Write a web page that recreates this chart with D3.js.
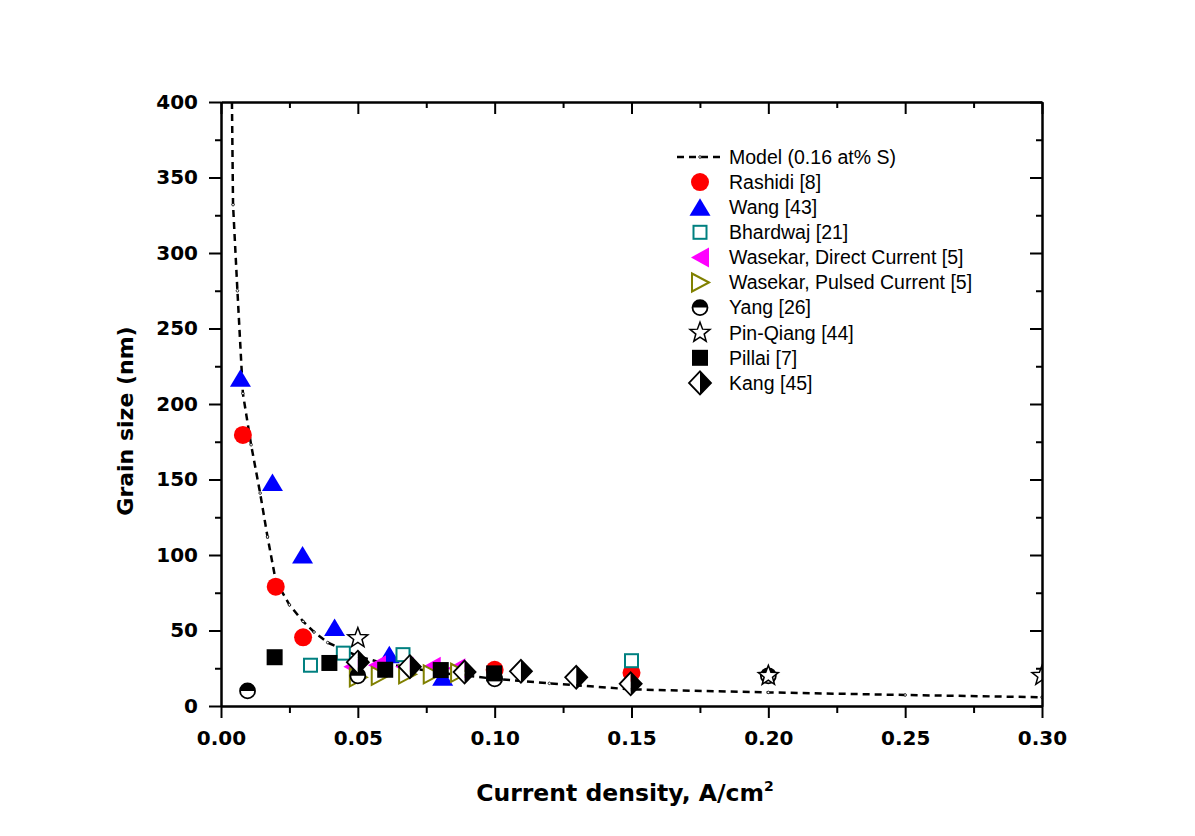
<!DOCTYPE html>
<html>
<head>
<meta charset="utf-8">
<script src="https://cdnjs.cloudflare.com/ajax/libs/d3/7.8.5/d3.min.js"></script>
<style>
  body { margin: 0; background: #fff; }
  .axis path, .axis line { stroke: #000; stroke-width: 2; }
  .axis text { font-family: "DejaVu Sans", sans-serif; font-weight: bold; font-size: 20px; fill: #000; }
  .legend text { font-family: "Liberation Sans", Arial, sans-serif; font-size: 19.5px; fill: #000; }
</style>
</head>
<body>
<div id="chart"></div>
<script>
// model curve, 0.16 at% S
var modelX = [0.0040, 0.0044, 0.0060, 0.0080, 0.0110, 0.0143, 0.0170, 0.0200, 0.0250, 0.0300, 0.0340, 0.0390, 0.0500, 0.0600, 0.0800, 0.1000, 0.1200, 0.1500, 0.2000, 0.2500, 0.3000];
var modelY = [400, 332, 275, 207, 173, 141, 112, 83, 67, 56, 49, 42, 33, 28, 22, 18, 15, 11, 9, 7.3, 5.8];

// literature data
var rashidiX = [0.008, 0.020, 0.030, 0.100, 0.150];
var rashidiY = [179.5, 79, 45.5, 24, 22];
var wangX = [0.0071, 0.0188, 0.0298, 0.0415, 0.0615, 0.081];
var wangY = [217, 148, 100, 52, 34, 19];
var bhardwajX = [0.0327, 0.0447, 0.0665, 0.150];
var bhardwajY = [27, 35, 34, 30];
var wasekarDcX = [0.048, 0.057, 0.067, 0.077, 0.086];
var wasekarDcY = [26, 27, 26, 26, 25];
var wasekarPcX = [0.050, 0.058, 0.068, 0.077, 0.087];
var wasekarPcY = [19, 20, 21, 21, 22];
var yangX = [0.0097, 0.050, 0.100, 0.200];
var yangY = [10, 20, 18, 20];
var pinQiangX = [0.050, 0.200, 0.300];
var pinQiangY = [45, 20, 20];
var pillaiX = [0.0196, 0.0396, 0.060, 0.0803, 0.0998];
var pillaiY = [32.3, 28.5, 24, 23.8, 21.6];
var kangX = [0.050, 0.069, 0.089, 0.1096, 0.1298, 0.1497];
var kangY = [29, 26, 22.5, 23, 19, 14.7];

var xTicks = [0, 0.05, 0.10, 0.15, 0.20, 0.25, 0.30];
var yTicks = [0, 50, 100, 150, 200, 250, 300, 350, 400];

var series = [
  { name: 'Rashidi [8]', shape: 'circle', xs: rashidiX, ys: rashidiY },
  { name: 'Wang [43]', shape: 'triUp', xs: wangX, ys: wangY },
  { name: 'Bhardwaj [21]', shape: 'openSquare', xs: bhardwajX, ys: bhardwajY },
  { name: 'Wasekar, Direct Current [5]', shape: 'triLeft', xs: wasekarDcX, ys: wasekarDcY },
  { name: 'Wasekar, Pulsed Current [5]', shape: 'triRight', xs: wasekarPcX, ys: wasekarPcY },
  { name: 'Yang [26]', shape: 'halfCircle', xs: yangX, ys: yangY },
  { name: 'Pin-Qiang [44]', shape: 'star', xs: pinQiangX, ys: pinQiangY },
  { name: 'Pillai [7]', shape: 'square', xs: pillaiX, ys: pillaiY },
  { name: 'Kang [45]', shape: 'halfDiamond', xs: kangX, ys: kangY }
];

var width = 1195, height = 836;
var pLeft = 221, pRight = 1042, pTop = 102, pBottom = 706;

var svg = d3.select('#chart').append('svg')
  .attr('width', width)
  .attr('height', height);

var x = d3.scaleLinear().domain([0, 0.3]).range([pLeft, pRight]);
var y = d3.scaleLinear().domain([0, 400]).range([pBottom, pTop]);

svg.append('clipPath').attr('id', 'plotClip')
  .append('rect')
  .attr('x', pLeft).attr('y', pTop)
  .attr('width', pRight - pLeft).attr('height', pBottom - pTop);

// marker drawing
function starPath(R, r) {
  var p = [];
  for (var i = 0; i < 10; i++) {
    var a = -Math.PI / 2 + i * Math.PI / 5;
    var rr = i % 2 ? r : R;
    p.push([rr * Math.cos(a), rr * Math.sin(a)]);
  }
  return 'M' + p.join('L') + 'Z';
}

function drawMarker(g, shape) {
  if (shape === 'circle') {
    g.append('circle').attr('r', 9).attr('fill', '#ff0000');
  } else if (shape === 'triUp') {
    g.append('path').attr('d', 'M0,-9L10.5,8.5L-10.5,8.5Z').attr('fill', '#0000ff');
  } else if (shape === 'openSquare') {
    g.append('rect').attr('x', -6.5).attr('y', -6.5).attr('width', 13).attr('height', 13)
      .attr('fill', '#fff').attr('stroke', '#008080').attr('stroke-width', 2);
  } else if (shape === 'triLeft') {
    g.append('path').attr('d', 'M-9,0L9,-10L9,10Z').attr('fill', '#ff00ff');
  } else if (shape === 'triRight') {
    g.append('path').attr('d', 'M9,0L-8,-9L-8,9Z')
      .attr('fill', '#fff').attr('stroke', '#808000').attr('stroke-width', 2);
  } else if (shape === 'halfCircle') {
    g.append('circle').attr('r', 7.5).attr('fill', '#fff');
    g.append('path').attr('d', 'M-7.5,0A7.5,7.5 0 0 1 7.5,0Z').attr('fill', '#000');
    g.append('circle').attr('r', 7.5).attr('fill', 'none').attr('stroke', '#000').attr('stroke-width', 1.8);
  } else if (shape === 'star') {
    g.append('path').attr('d', starPath(10.5, 4.4))
      .attr('fill', '#fff').attr('stroke', '#000').attr('stroke-width', 1.5);
  } else if (shape === 'square') {
    g.append('rect').attr('x', -8).attr('y', -8).attr('width', 16).attr('height', 16).attr('fill', '#000');
  } else if (shape === 'halfDiamond') {
    g.append('path').attr('d', 'M0,-11.5L-11,0L0,11.5Z').attr('fill', '#fff');
    g.append('path').attr('d', 'M0,-11.5L11,0L0,11.5Z').attr('fill', '#000');
    g.append('path').attr('d', 'M0,-11.5L11,0L0,11.5L-11,0Z')
      .attr('fill', 'none').attr('stroke', '#000').attr('stroke-width', 1.8);
  }
}

var plot = svg.append('g').attr('clip-path', 'url(#plotClip)');

// model line
var model = modelX.map(function(d, i) { return [d, modelY[i]]; });
var line = d3.line()
  .x(function(d) { return x(d[0]); })
  .y(function(d) { return y(d[1]); });

plot.append('path')
  .datum(model)
  .attr('d', line)
  .attr('fill', 'none')
  .attr('stroke', '#000')
  .attr('stroke-width', 2.5)
  .attr('stroke-dasharray', '7,5');

plot.selectAll('.mpt')
  .data(model)
  .enter()
  .append('circle')
  .attr('class', 'mpt')
  .attr('cx', function(d) { return x(d[0]); })
  .attr('cy', function(d) { return y(d[1]); })
  .attr('r', 1.3)
  .attr('fill', '#fff')
  .attr('stroke', '#000')
  .attr('stroke-width', 0.8);

// data markers
series.forEach(function(s) {
  var pts = s.xs.map(function(d, i) { return [d, s.ys[i]]; });
  plot.selectAll(null)
    .data(pts)
    .enter()
    .append('g')
    .attr('transform', function(d) { return 'translate(' + x(d[0]) + ',' + y(d[1]) + ')'; })
    .each(function() { drawMarker(d3.select(this), s.shape); });
});

// axes
var xMinor = d3.range(0.025, 0.3, 0.05);
var yMinor = d3.range(25, 400, 50);

svg.append('g').attr('class', 'axis')
  .attr('transform', 'translate(0,' + pBottom + ')')
  .call(d3.axisBottom(x).tickValues(xTicks).tickFormat(d3.format('.2f')).tickSize(12).tickSizeOuter(0).tickPadding(13));
svg.append('g').attr('class', 'axis')
  .attr('transform', 'translate(0,' + pBottom + ')')
  .call(d3.axisBottom(x).tickValues(xMinor).tickFormat('').tickSize(7).tickSizeOuter(0));

svg.append('g').attr('class', 'axis')
  .attr('transform', 'translate(0,' + pTop + ')')
  .call(d3.axisTop(x).tickValues(xTicks).tickFormat('').tickSize(-12).tickSizeOuter(0));
svg.append('g').attr('class', 'axis')
  .attr('transform', 'translate(0,' + pTop + ')')
  .call(d3.axisTop(x).tickValues(xMinor).tickFormat('').tickSize(-6).tickSizeOuter(0));

svg.append('g').attr('class', 'axis')
  .attr('transform', 'translate(' + pLeft + ',0)')
  .call(d3.axisLeft(y).tickValues(yTicks).tickSize(12).tickSizeOuter(0).tickPadding(11));
svg.append('g').attr('class', 'axis')
  .attr('transform', 'translate(' + pLeft + ',0)')
  .call(d3.axisLeft(y).tickValues(yMinor).tickFormat('').tickSize(6).tickSizeOuter(0));

svg.append('g').attr('class', 'axis')
  .attr('transform', 'translate(' + pRight + ',0)')
  .call(d3.axisRight(y).tickValues(yTicks).tickFormat('').tickSize(-12).tickSizeOuter(0));
svg.append('g').attr('class', 'axis')
  .attr('transform', 'translate(' + pRight + ',0)')
  .call(d3.axisRight(y).tickValues(yMinor).tickFormat('').tickSize(-6).tickSizeOuter(0));

// axis titles
var xTitle = svg.append('text')
  .attr('x', 625)
  .attr('y', 801)
  .attr('text-anchor', 'middle')
  .style('font-family', '"DejaVu Sans", sans-serif')
  .style('font-weight', 'bold')
  .style('font-size', '23.5px');
xTitle.append('tspan').text('Current density, A/cm');
xTitle.append('tspan').attr('dy', -10).style('font-size', '14px').text('2');

svg.append('text')
  .attr('transform', 'translate(133,421) rotate(-90)')
  .attr('text-anchor', 'middle')
  .style('font-family', '"DejaVu Sans", sans-serif')
  .style('font-weight', 'bold')
  .style('font-size', '22px')
  .text('Grain size (nm)');

// legend
var legendX = 700, legendY = 157, legendStep = 25.1;
var legend = svg.append('g').attr('class', 'legend');

var lm = legend.append('g').attr('transform', 'translate(' + legendX + ',' + legendY + ')');
lm.append('line')
  .attr('x1', -23).attr('x2', 25)
  .attr('stroke', '#000').attr('stroke-width', 2.5)
  .attr('stroke-dasharray', '7,5');
lm.append('circle').attr('r', 1.3).attr('fill', '#fff').attr('stroke', '#000').attr('stroke-width', 0.8);
lm.append('text').attr('x', 29).attr('dy', '0.35em').text('Model (0.16 at% S)');

series.forEach(function(s, i) {
  var row = legend.append('g')
    .attr('transform', 'translate(' + legendX + ',' + (legendY + (i + 1) * legendStep) + ')');
  drawMarker(row, s.shape);
  row.append('text').attr('x', 29).attr('dy', '0.35em').text(s.name);
});
</script>
</body>
</html>
